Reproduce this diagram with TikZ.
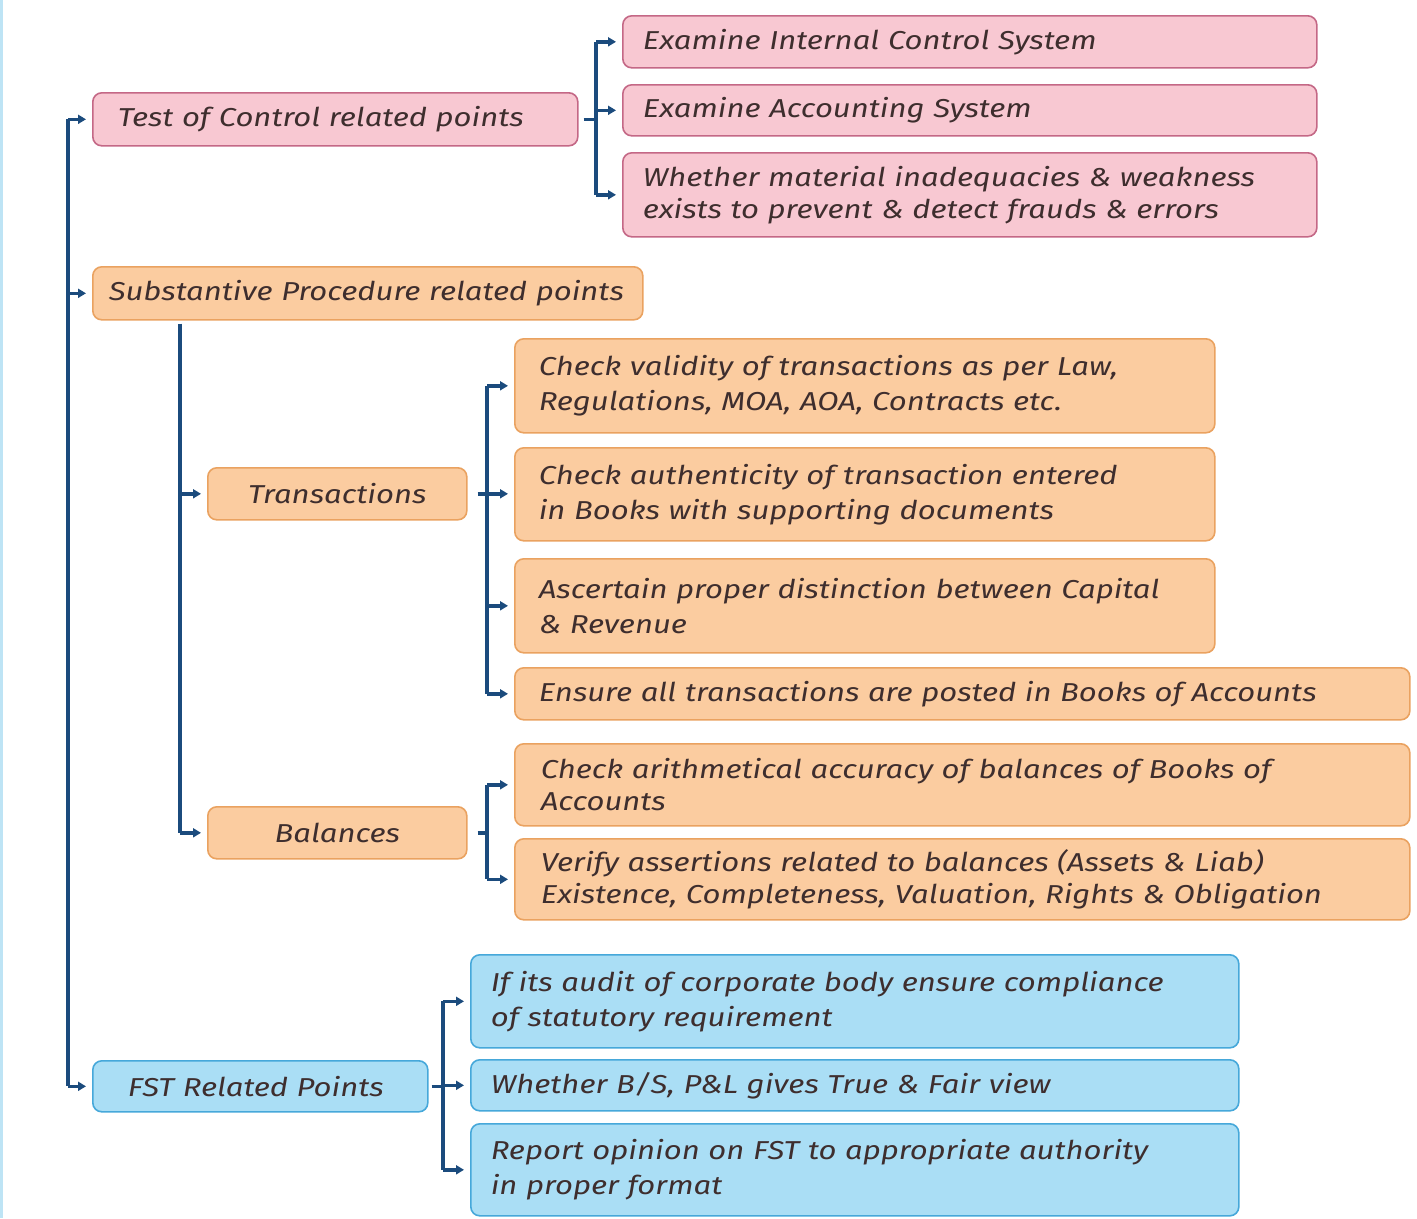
\documentclass[tikz,border=0pt]{standalone}
\usepackage{fontspec}
\setmainfont{Fira Sans}[FakeStretch=1.2]
\usetikzlibrary{arrows.meta}

\definecolor{pinkfill}{RGB}{248,200,210}
\definecolor{pinkline}{RGB}{196,104,134}
\definecolor{orfill}{RGB}{251,204,160}
\definecolor{orline}{RGB}{234,162,96}
\definecolor{bluefill}{RGB}{170,222,245}
\definecolor{blueline}{RGB}{70,168,218}
\definecolor{conn}{RGB}{27,75,125}
\definecolor{txt}{RGB}{62,46,46}
\definecolor{edge}{RGB}{190,228,245}

\begin{document}
\begin{tikzpicture}[x=1bp,y=-1bp,
  box/.style={draw, rounded corners=9bp, line width=1.6bp, anchor=north west,
    inner xsep=20bp, inner ysep=0pt, align=left, text=txt,
    font=\fontsize{26}{35}\selectfont\itshape},
  tight/.style={font=\fontsize{26}{32}\selectfont\itshape},
  pinkbox/.style={box, fill=pinkfill, draw=pinkline},
  orbox/.style={box, fill=orfill, draw=orline},
  bluebox/.style={box, fill=bluefill, draw=blueline},
  link/.style={draw=conn, line width=3.4bp},
  arr/.style={link, -{Triangle[length=8bp,width=9bp]}, shorten >=6bp}
]
\useasboundingbox (0,0) rectangle (1417,1218);
\fill[white] (0,0) rectangle (1417,1218);
\draw[edge, line width=3bp] (1.5,0) -- (1.5,1218);

% --- Test of Control branch ---
\node[pinkbox, inner xsep=25bp, text width=435bp, minimum height=53bp] (toc) at (92,92) {Test of Control related points};
\node[pinkbox, text width=654bp, minimum height=52bp] (ics) at (622,15) {Examine Internal Control System};
\node[pinkbox, text width=654bp, minimum height=51bp] (acs) at (622,84) {Examine Accounting System};
\node[pinkbox, tight, text width=654bp, minimum height=84bp] (weak) at (622,152) {Whether material inadequacies \& weakness\\exists to prevent \& detect frauds \& errors};

% --- Substantive Procedure branch ---
\node[orbox, inner xsep=16bp, text width=518bp, minimum height=53bp] (sp) at (92,266) {Substantive Procedure related points};
\node[orbox, align=center, text width=219bp, minimum height=52bp] (trans) at (207,467) {Transactions};
\node[orbox, align=center, text width=219bp, minimum height=52bp] (bal) at (207,806) {Balances};

\node[orbox, inner xsep=24bp, text width=652bp, minimum height=94bp] (valid) at (514,338) {Check validity of transactions as per Law,\\Regulations, MOA, AOA, Contracts etc.};
\node[orbox, inner xsep=24bp, text width=652bp, minimum height=93bp] (auth) at (514,447) {Check authenticity of transaction entered\\in Books with supporting documents};
\node[orbox, inner xsep=24bp, text width=652bp, minimum height=94bp] (caprev) at (514,558) {Ascertain proper distinction between Capital\\\& Revenue};
\node[orbox, inner xsep=24bp, text width=847bp, minimum height=52bp] (posted) at (514,667) {Ensure all transactions are posted in Books of Accounts};
\node[orbox, tight, inner xsep=26bp, text width=843bp, minimum height=82bp] (arith) at (514,743) {Check arithmetical accuracy of balances of Books of\\Accounts};
\node[orbox, tight, inner xsep=26bp, text width=843bp, minimum height=81bp] (assert) at (514,838) {Verify assertions related to balances (Assets \& Liab)\\Existence, Completeness, Valuation, Rights \& Obligation};

% --- FST branch ---
\node[bluebox, inner xsep=35bp, text width=265bp, minimum height=51bp] (fst) at (92,1060) {FST Related Points};
\node[bluebox, text width=728bp, minimum height=93bp] (corp) at (470,954) {If its audit of corporate body ensure compliance\\of statutory requirement};
\node[bluebox, text width=728bp, minimum height=51bp] (tfv) at (470,1059) {Whether B/S, P\&L gives True \& Fair view};
\node[bluebox, text width=728bp, minimum height=92bp] (report) at (470,1123) {Report opinion on FST to appropriate authority\\in proper format};

% --- main trunk ---
\coordinate (mt) at (68,0);
\draw[link] (toc.west -| mt) -- (fst.west -| mt);
\draw[arr] (toc.west -| mt) -- (toc.west);
\draw[arr] (sp.west -| mt) -- (sp.west);
\draw[arr] (fst.west -| mt) -- (fst.west);

% --- Test of Control bracket ---
\coordinate (tc) at (596,0);
\draw[link] (toc.east) ++(5,0) -- (toc.east -| tc);
\draw[link] (ics.west -| tc) -- (weak.west -| tc);
\draw[arr] (ics.west -| tc) -- (ics.west);
\draw[arr] (acs.west -| tc) -- (acs.west);
\draw[arr] (weak.west -| tc) -- (weak.west);

% --- Substantive Procedure stem ---
\coordinate (st) at (180,0);
\draw[link] ([yshift=-3bp]sp.south -| st) -- (bal.west -| st);
\draw[arr] (trans.west -| st) -- (trans.west);
\draw[arr] (bal.west -| st) -- (bal.west);

% --- Transactions bracket ---
\coordinate (tb) at (487,0);
\draw[link] (trans.east) ++(10,0) -- (trans.east -| tb);
\draw[link] (valid.west -| tb) -- (posted.west -| tb);
\draw[arr] (valid.west -| tb) -- (valid.west);
\draw[arr] (trans.east -| tb) -- (trans.east -| valid.west);
\draw[arr] (caprev.west -| tb) -- (caprev.west);
\draw[arr] (posted.west -| tb) -- (posted.west);

% --- Balances bracket ---
\draw[link] (bal.east) ++(10,0) -- (bal.east -| tb);
\draw[link] (arith.west -| tb) -- (assert.west -| tb);
\draw[arr] (arith.west -| tb) -- (arith.west);
\draw[arr] (assert.west -| tb) -- (assert.west);

% --- FST bracket ---
\coordinate (fb) at (443,0);
\draw[link] (fst.east) ++(3,0) -- (fst.east -| fb);
\draw[link] (corp.west -| fb) -- (report.west -| fb);
\draw[arr] (corp.west -| fb) -- (corp.west);
\draw[arr] (tfv.west -| fb) -- (tfv.west);
\draw[arr] (report.west -| fb) -- (report.west);
\end{tikzpicture}
\end{document}
